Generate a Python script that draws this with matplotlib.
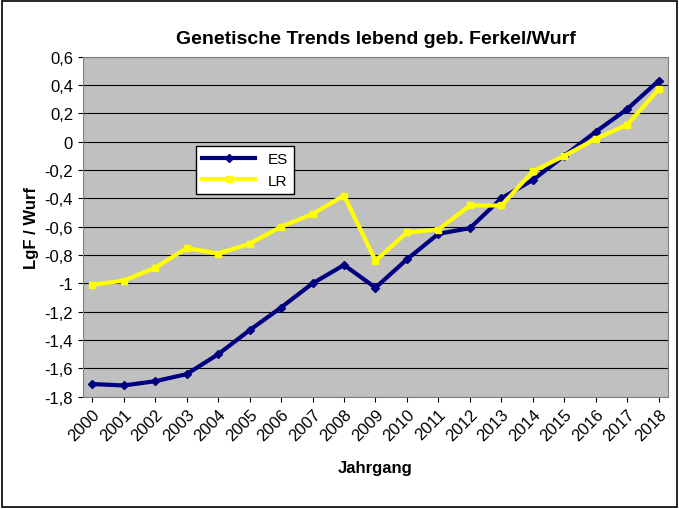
import matplotlib
matplotlib.use('Agg')
import matplotlib.pyplot as plt

years = [str(y) for y in range(2000, 2019)]
es = [-1.71, -1.72, -1.69, -1.64, -1.50, -1.33, -1.17, -1.00, -0.87, -1.03,
      -0.83, -0.65, -0.61, -0.40, -0.27, -0.10, 0.07, 0.23, 0.43]
lr = [-1.01, -0.98, -0.89, -0.75, -0.79, -0.72, -0.60, -0.51, -0.38, -0.84,
      -0.64, -0.62, -0.45, -0.45, -0.21, -0.10, 0.02, 0.12, 0.37]
yticks = [0.6, 0.4, 0.2, 0, -0.2, -0.4, -0.6, -0.8, -1, -1.2, -1.4, -1.6, -1.8]

plt.rcParams['font.family'] = 'Liberation Sans'
plt.rcParams['font.weight'] = 'bold'

fig = plt.figure(figsize=(6.79, 5.10), dpi=100)
fig.patches.append(plt.Rectangle((0.003, 0.004), 0.994, 0.992, transform=fig.transFigure,
                                 fill=False, edgecolor='black', lw=1.2))
ax = fig.add_axes([0.122, 0.22, 0.862, 0.667])
ax.set_facecolor('#C0C0C0')
x = range(len(years))
ax.plot(x, es, color='#000080', lw=3, marker='D', ms=4, label='ES')
ax.plot(x, lr, color='#FFFF00', lw=3, marker='s', ms=4, label='LR')
ax.set_xlim(-0.3, len(years) - 0.7)
ax.set_ylim(-1.8, 0.6)
ax.set_yticks(yticks)
ax.set_yticklabels([f'{v:g}'.replace('.', ',') for v in yticks], fontsize=12, fontweight='normal')
ax.set_xticks(list(x))
ax.set_xticklabels(years, rotation=45, ha='right', rotation_mode='anchor', fontsize=12, fontweight='normal')
ax.grid(axis='y', color='black', lw=0.8)
ax.set_axisbelow(True)
for s in ax.spines.values():
    s.set_color('#808080')
ax.set_title('Genetische Trends lebend geb. Ferkel/Wurf', fontsize=14, fontweight='bold', pad=10)
ax.set_xlabel('Jahrgang', fontsize=12, fontweight='bold', labelpad=12)
ax.set_ylabel('LgF / Wurf', fontsize=12, fontweight='bold')
leg = ax.legend(loc='upper left', bbox_to_anchor=(0.18, 0.76), fontsize=11, fancybox=False,
                framealpha=1, edgecolor='black', handlelength=3.5)
for t in leg.get_texts():
    t.set_fontweight('normal')
fig.savefig('out.png', dpi=100)
